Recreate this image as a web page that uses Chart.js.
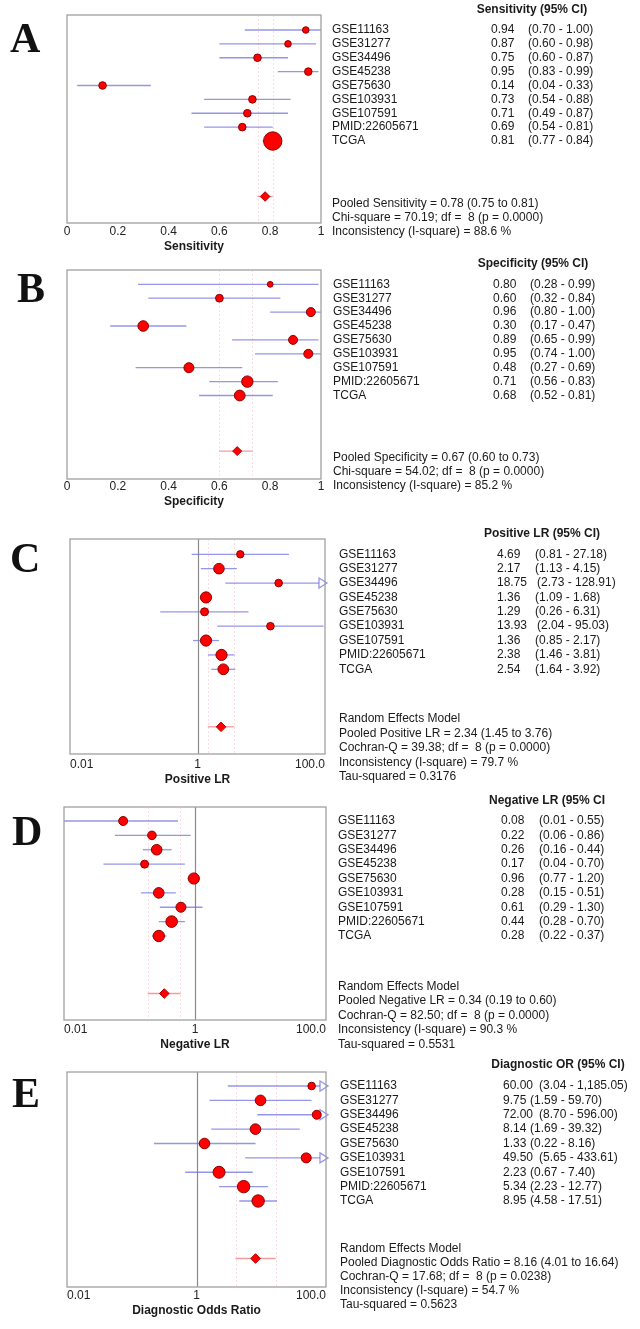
<!DOCTYPE html>
<html>
<head>
<meta charset="utf-8">
<script src="https://cdn.jsdelivr.net/npm/chart.js@4.4.1/dist/chart.umd.min.js"></script>
<style>
  body { margin: 0; background: #fff; width: 640px; height: 1329px; position: relative; overflow: hidden; }
  .panel { position: absolute; left: 0; width: 640px; }
</style>
</head>
<body>
<div class="panel" style="top:0px;height:258px"><canvas id="chartA" width="640" height="258"></canvas></div>
<div class="panel" style="top:255px;height:260px"><canvas id="chartB" width="640" height="260"></canvas></div>
<div class="panel" style="top:515px;height:275px"><canvas id="chartC" width="640" height="275"></canvas></div>
<div class="panel" style="top:785px;height:272px"><canvas id="chartD" width="640" height="272"></canvas></div>
<div class="panel" style="top:1050px;height:279px"><canvas id="chartE" width="640" height="279"></canvas></div>
<script>
// ---- data ----
var studies = ['GSE11163', 'GSE31277', 'GSE34496', 'GSE45238', 'GSE75630', 'GSE103931', 'GSE107591', 'PMID:22605671', 'TCGA'];

var sensEst  = [0.94, 0.87, 0.75, 0.95, 0.14, 0.73, 0.71, 0.69, 0.81];
var sensLow  = [0.70, 0.60, 0.60, 0.83, 0.04, 0.54, 0.49, 0.54, 0.77];
var sensHigh = [1.00, 0.98, 0.87, 0.99, 0.33, 0.88, 0.87, 0.81, 0.84];
var sensPooled = [0.78, 0.75, 0.81];

var specEst  = [0.80, 0.60, 0.96, 0.30, 0.89, 0.95, 0.48, 0.71, 0.68];
var specLow  = [0.28, 0.32, 0.80, 0.17, 0.65, 0.74, 0.27, 0.56, 0.52];
var specHigh = [0.99, 0.84, 1.00, 0.47, 0.99, 1.00, 0.69, 0.83, 0.81];
var specPooled = [0.67, 0.60, 0.73];

var plrEst  = [4.69, 2.17, 18.75, 1.36, 1.29, 13.93, 1.36, 2.38, 2.54];
var plrLow  = [0.81, 1.13, 2.73, 1.09, 0.26, 2.04, 0.85, 1.46, 1.64];
var plrHigh = [27.18, 4.15, 128.91, 1.68, 6.31, 95.03, 2.17, 3.81, 3.92];
var plrPooled = [2.34, 1.45, 3.76];

var nlrEst  = [0.08, 0.22, 0.26, 0.17, 0.96, 0.28, 0.61, 0.44, 0.28];
var nlrLow  = [0.01, 0.06, 0.16, 0.04, 0.77, 0.15, 0.29, 0.28, 0.22];
var nlrHigh = [0.55, 0.86, 0.44, 0.70, 1.20, 0.51, 1.30, 0.70, 0.37];
var nlrPooled = [0.34, 0.19, 0.60];

var dorEst  = [60.00, 9.75, 72.00, 8.14, 1.33, 49.50, 2.23, 5.34, 8.95];
var dorLow  = [3.04, 1.59, 8.70, 1.69, 0.22, 5.65, 0.67, 2.23, 4.58];
var dorHigh = [1185.05, 59.70, 596.00, 39.32, 8.16, 433.61, 7.40, 12.77, 17.51];
var dorPooled = [8.16, 4.01, 16.64];

var linTicks = [0, 0.2, 0.4, 0.6, 0.8, 1];
var linTickLabels = ['0', '0.2', '0.4', '0.6', '0.8', '1'];
var logTicks = [0.01, 1, 100];
var logTickLabels = ['0.01', '1', '100.0'];

var sensStats = ['Pooled Sensitivity = 0.78 (0.75 to 0.81)', 'Chi-square = 70.19; df =  8 (p = 0.0000)', 'Inconsistency (I-square) = 88.6 %'];
var specStats = ['Pooled Specificity = 0.67 (0.60 to 0.73)', 'Chi-square = 54.02; df =  8 (p = 0.0000)', 'Inconsistency (I-square) = 85.2 %'];
var plrStats = ['Random Effects Model', 'Pooled Positive LR = 2.34 (1.45 to 3.76)', 'Cochran-Q = 39.38; df =  8 (p = 0.0000)', 'Inconsistency (I-square) = 79.7 %', 'Tau-squared = 0.3176'];
var nlrStats = ['Random Effects Model', 'Pooled Negative LR = 0.34 (0.19 to 0.60)', 'Cochran-Q = 82.50; df =  8 (p = 0.0000)', 'Inconsistency (I-square) = 90.3 %', 'Tau-squared = 0.5531'];
var dorStats = ['Random Effects Model', 'Pooled Diagnostic Odds Ratio = 8.16 (4.01 to 16.64)', 'Cochran-Q = 17.68; df =  8 (p = 0.0238)', 'Inconsistency (I-square) = 54.7 %', 'Tau-squared = 0.5623'];

var pooledRow = 12;
var FONT = '"Liberation Sans", Arial, sans-serif';

// ---- layout (page coordinates) ----
var panels = [
  { id: 'chartA', letter: 'A', lx: 10, ly: 52, top: 0, height: 258, box: [67, 15, 321, 223], row0: 30, step: 13.875,
    log: false, title: 'Sensitivity', header: 'Sensitivity (95% CI)', hx: 532, hy: 10,
    est: sensEst, lo: sensLow, hi: sensHigh, pooled: sensPooled, stats: sensStats, statY: [204, 218, 232],
    labX: 332, valX: 491, ciX: 528, ciXLong: 528, tickOff: 9, titleOff: 24,
    radii: [3.3, 3.3, 3.8, 3.8, 3.8, 3.8, 3.8, 3.8, 9.2], dia: 4.8 },
  { id: 'chartB', letter: 'B', lx: 17, ly: 302, top: 255, height: 260, box: [67, 270, 321, 479], row0: 284.3, step: 13.9,
    log: false, title: 'Specificity', header: 'Specificity (95% CI)', hx: 533, hy: 264,
    est: specEst, lo: specLow, hi: specHigh, pooled: specPooled, stats: specStats, statY: [458, 472, 486],
    labX: 333, valX: 493, ciX: 530, ciXLong: 530, tickOff: 8, titleOff: 23,
    radii: [2.9, 3.9, 4.5, 5.3, 4.5, 4.5, 5, 5.7, 5.4], dia: 4.5 },
  { id: 'chartC', letter: 'C', lx: 10, ly: 572, top: 515, height: 275, box: [70, 539, 325, 754], row0: 554.3, step: 14.375,
    log: true, title: 'Positive LR', header: 'Positive LR (95% CI)', hx: 542, hy: 534,
    est: plrEst, lo: plrLow, hi: plrHigh, pooled: plrPooled, stats: plrStats, statY: [719, 733.5, 748, 762.5, 777],
    labX: 339, valX: 497, ciX: 535, ciXLong: 537, tickOff: 11, titleOff: 26,
    radii: [3.7, 5.3, 3.8, 5.6, 4, 3.8, 5.6, 5.6, 5.4], dia: 4.8 },
  { id: 'chartD', letter: 'D', lx: 12, ly: 845, top: 785, height: 272, box: [64, 807, 326, 1020], row0: 821, step: 14.375,
    log: true, title: 'Negative LR', header: 'Negative LR (95% CI', hx: 547, hy: 801,
    est: nlrEst, lo: nlrLow, hi: nlrHigh, pooled: nlrPooled, stats: nlrStats, statY: [987, 1001, 1015.5, 1030, 1044.5],
    labX: 338, valX: 501, ciX: 539, ciXLong: 539, tickOff: 10, titleOff: 25,
    radii: [4.5, 4.3, 5.3, 4, 5.6, 5.3, 5, 5.8, 5.7], dia: 4.8 },
  { id: 'chartE', letter: 'E', lx: 12, ly: 1107, top: 1050, height: 279, box: [67, 1072, 326, 1287], row0: 1086, step: 14.375,
    log: true, title: 'Diagnostic Odds Ratio', header: 'Diagnostic OR (95% CI)', hx: 558, hy: 1065,
    est: dorEst, lo: dorLow, hi: dorHigh, pooled: dorPooled, stats: dorStats, statY: [1249, 1263, 1277, 1291, 1305],
    labX: 340, valX: 503, ciX: 530, ciXLong: 539, tickOff: 9, titleOff: 24,
    radii: [3.8, 5.3, 4.5, 5.3, 5.3, 5, 6, 6.2, 6.2], dia: 4.8 }
];

function fmt(v) {
  return v.toLocaleString('en-US', { minimumFractionDigits: 2, maximumFractionDigits: 2 });
}

function forestPlugin(p) {
  return {
    id: 'forest',
    beforeDatasetsDraw: function(chart) {
      var ctx = chart.ctx, a = chart.chartArea, x = chart.scales.x, y = chart.scales.y;
      ctx.save();
      // faint dotted lines at pooled CI bounds
      ctx.strokeStyle = 'rgba(240,120,140,0.25)';
      ctx.lineWidth = 1;
      ctx.setLineDash([2, 2]);
      [p.pooled[1], p.pooled[2]].forEach(function(v) {
        var px = Math.round(x.getPixelForValue(v)) + 0.5;
        ctx.beginPath(); ctx.moveTo(px, a.top); ctx.lineTo(px, a.bottom); ctx.stroke();
      });
      ctx.setLineDash([]);
      // reference line at 1 for ratio scales
      if (p.log) {
        var rx = Math.round(x.getPixelForValue(1)) + 0.5;
        ctx.strokeStyle = '#8a8a8a';
        ctx.lineWidth = 1.2;
        ctx.beginPath(); ctx.moveTo(rx, a.top); ctx.lineTo(rx, a.bottom); ctx.stroke();
      }
      // study confidence intervals
      ctx.strokeStyle = 'rgba(115,115,225,0.75)';
      ctx.lineWidth = 1.3;
      for (var i = 0; i < p.est.length; i++) {
        var py = y.getPixelForValue(i);
        var x1 = x.getPixelForValue(Math.max(p.lo[i], x.min));
        var over = p.hi[i] > x.max;
        var x2 = over ? a.right - 5 : x.getPixelForValue(p.hi[i]);
        ctx.beginPath(); ctx.moveTo(x1, py); ctx.lineTo(x2, py); ctx.stroke();
        if (over) {
          ctx.fillStyle = '#fff';
          ctx.beginPath();
          ctx.moveTo(a.right - 6, py - 5);
          ctx.lineTo(a.right + 2, py);
          ctx.lineTo(a.right - 6, py + 5);
          ctx.closePath();
          ctx.fill(); ctx.stroke();
        }
      }
      // pooled CI
      var yp = y.getPixelForValue(pooledRow);
      ctx.strokeStyle = 'rgba(240,130,130,0.8)';
      ctx.lineWidth = 1.3;
      ctx.beginPath();
      ctx.moveTo(x.getPixelForValue(p.pooled[1]), yp);
      ctx.lineTo(x.getPixelForValue(p.pooled[2]), yp);
      ctx.stroke();
      ctx.restore();
    },
    afterDraw: function(chart) {
      var ctx = chart.ctx, a = chart.chartArea, y = chart.scales.y;
      ctx.save();
      ctx.strokeStyle = '#a0a0a0';
      ctx.lineWidth = 1.3;
      ctx.strokeRect(a.left, a.top, a.right - a.left, a.bottom - a.top);

      ctx.fillStyle = '#1a1a1a';
      ctx.textBaseline = 'middle';
      ctx.font = 'bold 12px ' + FONT;
      ctx.textAlign = 'center';
      ctx.fillText(p.header, p.hx, p.hy - p.top);

      ctx.font = '12px ' + FONT;
      ctx.textAlign = 'left';
      for (var i = 0; i < studies.length; i++) {
        var py = y.getPixelForValue(i);
        var val = p.est[i].toFixed(2);
        ctx.fillText(studies[i], p.labX, py);
        ctx.fillText(val, p.valX, py);
        ctx.fillText('(' + fmt(p.lo[i]) + ' - ' + fmt(p.hi[i]) + ')', val.length > 4 ? p.ciXLong : p.ciX, py);
      }
      p.stats.forEach(function(s, k) {
        ctx.fillText(s, p.labX, p.statY[k] - p.top);
      });

      ctx.fillStyle = '#111';
      ctx.textBaseline = 'alphabetic';
      ctx.font = 'bold 42px "Liberation Serif", "Times New Roman", serif';
      ctx.fillText(p.letter, p.lx, p.ly - p.top);
      ctx.restore();
    }
  };
}

panels.forEach(function(p) {
  var b = p.box;
  var axisH = p.titleOff + 7.2;
  var xScale = {
    type: p.log ? 'logarithmic' : 'linear',
    min: p.log ? logTicks[0] : linTicks[0],
    max: p.log ? logTicks[logTicks.length - 1] : linTicks[linTicks.length - 1],
    afterBuildTicks: function(s) {
      s.ticks = (p.log ? logTicks : linTicks).map(function(v) { return { value: v }; });
    },
    afterFit: function(s) { s.height = axisH; },
    grid: { display: false, drawTicks: false },
    border: { display: false },
    ticks: {
      autoSkip: false,
      maxRotation: 0,
      align: p.log ? 'inner' : 'center',
      padding: p.tickOff - 7.2,
      color: '#222',
      font: { family: FONT, size: 12 },
      callback: function(v) {
        return p.log ? logTickLabels[logTicks.indexOf(v)] : linTickLabels[linTicks.indexOf(v)];
      }
    },
    title: { display: true, text: p.title, color: '#1a1a1a', padding: 0, font: { family: FONT, size: 12, weight: 'bold' } }
  };

  new Chart(document.getElementById(p.id), {
    type: 'scatter',
    data: {
      datasets: [
        {
          data: p.est.map(function(v, i) { return { x: v, y: i }; }),
          pointRadius: p.radii,
          backgroundColor: '#ff0000',
          borderColor: '#8a0000',
          borderWidth: 1,
          clip: false
        },
        {
          data: [{ x: p.pooled[0], y: pooledRow }],
          pointStyle: 'rectRot',
          pointRadius: p.dia,
          backgroundColor: '#ff0000',
          borderColor: '#b00000',
          borderWidth: 1,
          clip: false
        }
      ]
    },
    options: {
      responsive: false,
      animation: false,
      devicePixelRatio: 1,
      layout: {
        padding: {
          left: b[0],
          right: 640 - b[2],
          top: b[1] - p.top,
          bottom: p.height - (b[3] - p.top) - axisH
        }
      },
      plugins: { legend: { display: false }, tooltip: { enabled: false } },
      scales: {
        x: xScale,
        y: {
          type: 'linear',
          display: false,
          reverse: true,
          min: (b[1] - p.row0) / p.step,
          max: (b[3] - p.row0) / p.step
        }
      }
    },
    plugins: [forestPlugin(p)]
  });
});
</script>
</body>
</html>
